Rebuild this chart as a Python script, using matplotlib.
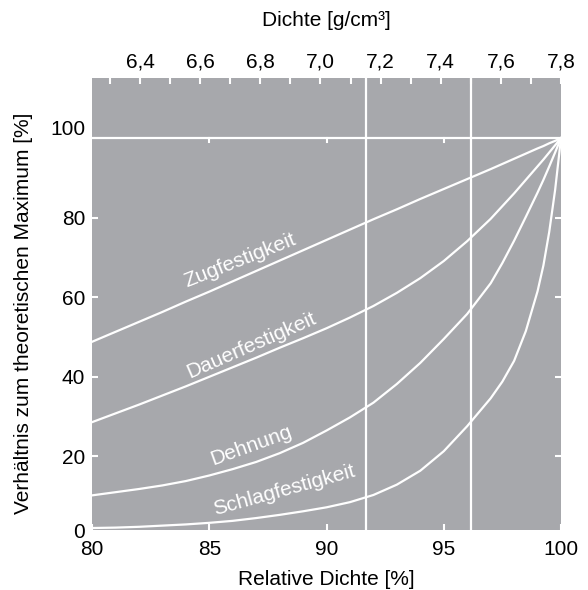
import matplotlib

matplotlib.use("Agg")
import matplotlib.pyplot as plt

plt.rcParams["font.family"] = ["Liberation Sans", "DejaVu Sans"]
plt.rcParams["font.size"] = 15

# full density of the material (100 % relative density)
FULL_DENSITY = 7.8

rel_density = [80, 81, 82, 83, 84, 85, 86, 87, 88, 89, 90, 91, 92, 93, 94, 95, 96, 97,
               97.5, 98, 98.5, 99, 99.25, 99.5, 99.75, 100]
zugfestigkeit = [48.8, 51.3, 53.8, 56.3, 58.9, 61.4, 64.0, 66.6, 69.2, 71.8, 74.4, 77.0, 79.6,
                 82.1, 84.7, 87.2, 89.7, 92.2, 93.5, 94.8, 96.1, 97.4, 98.0, 98.7, 99.3, 100]
dauerfestigkeit = [28.6, 30.8, 33.0, 35.3, 37.6, 40.0, 42.4, 44.8, 47.3, 49.7, 52.2, 54.9, 57.8,
                   61.1, 64.8, 69.1, 74.1, 79.7, 82.9, 86.1, 89.5, 92.9, 94.6, 96.4, 98.2, 100]
dehnung = [10.2, 11.0, 11.8, 12.7, 13.8, 15.2, 16.8, 18.6, 20.8, 23.4, 26.5, 29.8, 33.5,
           38.2, 43.5, 49.5, 55.8, 63.5, 68.6, 74.2, 80.2, 86.3, 89.5, 92.9, 96.4, 100]
schlagfestigkeit = [2.0, 2.1, 2.3, 2.6, 2.9, 3.3, 3.8, 4.5, 5.3, 6.2, 7.2, 8.5, 10.3,
                    12.9, 16.4, 21.3, 27.6, 34.6, 38.8, 44.0, 51.5, 61.5, 68.0, 76.5, 87.0, 100]

curve_names = ["Zugfestigkeit", "Dauerfestigkeit", "Dehnung", "Schlagfestigkeit"]
curves = [zugfestigkeit, dauerfestigkeit, dehnung, schlagfestigkeit]

marked_densities = [7.15, 7.5]  # g/cm3, vertical reference lines

x_ticks = [80, 85, 90, 95, 100]
y_ticks = [20, 40, 60, 80]
top_ticks = [6.4, 6.6, 6.8, 7.0, 7.2, 7.4, 7.6, 7.8]
top_labels = ["6,4", "6,6", "6,8", "7,0", "7,2", "7,4", "7,6", "7,8"]
top_minor = [6.3, 6.5, 6.7, 6.9, 7.1, 7.3, 7.5, 7.7]

# label placement (x, y, rotation) for each curve
label_place = [(86.3, 69.2, 21.5), (86.8, 48.0, 23.6), (86.8, 22.8, 19.8), (88.2, 11.6, 15.5)]

GRAY = "#a7a8ac"
WHITE = "white"

fig = plt.figure(figsize=(5.88, 5.90), dpi=100)
ax = fig.add_axes([92 / 588, 60 / 590, 469 / 588, 452 / 590])
ax.set_facecolor(GRAY)
for s in ax.spines.values():
    s.set_visible(False)
ax.set_xlim(80, 100)
ax.set_ylim(1.5, 115.1)

for values in curves:
    ax.plot(rel_density, values, color=WHITE, lw=1.6)

ax.axhline(100, color=WHITE, lw=1.6)
for d in marked_densities:
    ax.axvline(d / FULL_DENSITY * 100, color=WHITE, lw=1.6)

# short ticks hanging below the 100 % line
for x in x_ticks[1:-1]:
    ax.plot([x, x], [100, 99], color=WHITE, lw=1.5)

for name, (lx, ly, rot) in zip(curve_names, label_place):
    ax.text(lx, ly, name, rotation=rot, rotation_mode="anchor",
            ha="center", va="center", color=WHITE)

ax.set_xticks(x_ticks)
ax.set_yticks(y_ticks)
ax.tick_params(axis="x", direction="in", color=WHITE, length=4, width=1.5, pad=7)
ax.tick_params(axis="y", direction="in", color=WHITE, length=4, width=1.5,
               left=True, right=True, pad=5)
ax.annotate("0", xy=(0, 0), xycoords="axes fraction", xytext=(-5, -2),
            textcoords="offset points", ha="right", va="center")
ax.annotate("100", xy=(0, 100), xycoords=("axes fraction", "data"), xytext=(-5, 6),
            textcoords="offset points", ha="right", va="center")

ax.set_xlabel("Relative Dichte [%]", labelpad=8)
ax.set_ylabel("Verhältnis zum theoretischen Maximum [%]")
ax.yaxis.set_label_coords(-0.126, 0.48)

sec = ax.secondary_xaxis(
    "top",
    functions=(lambda r: r * FULL_DENSITY / 100, lambda d: d / FULL_DENSITY * 100),
)
sec.set_xticks(top_ticks, labels=top_labels)
sec.set_xticks(top_minor, minor=True)
sec.tick_params(which="both", direction="in", color=WHITE, length=4, width=1.5, pad=5)
sec.spines["top"].set_visible(False)
sec.set_xlabel("Dichte [g/cm³]", labelpad=19)

fig.savefig("out.png", dpi=100)
